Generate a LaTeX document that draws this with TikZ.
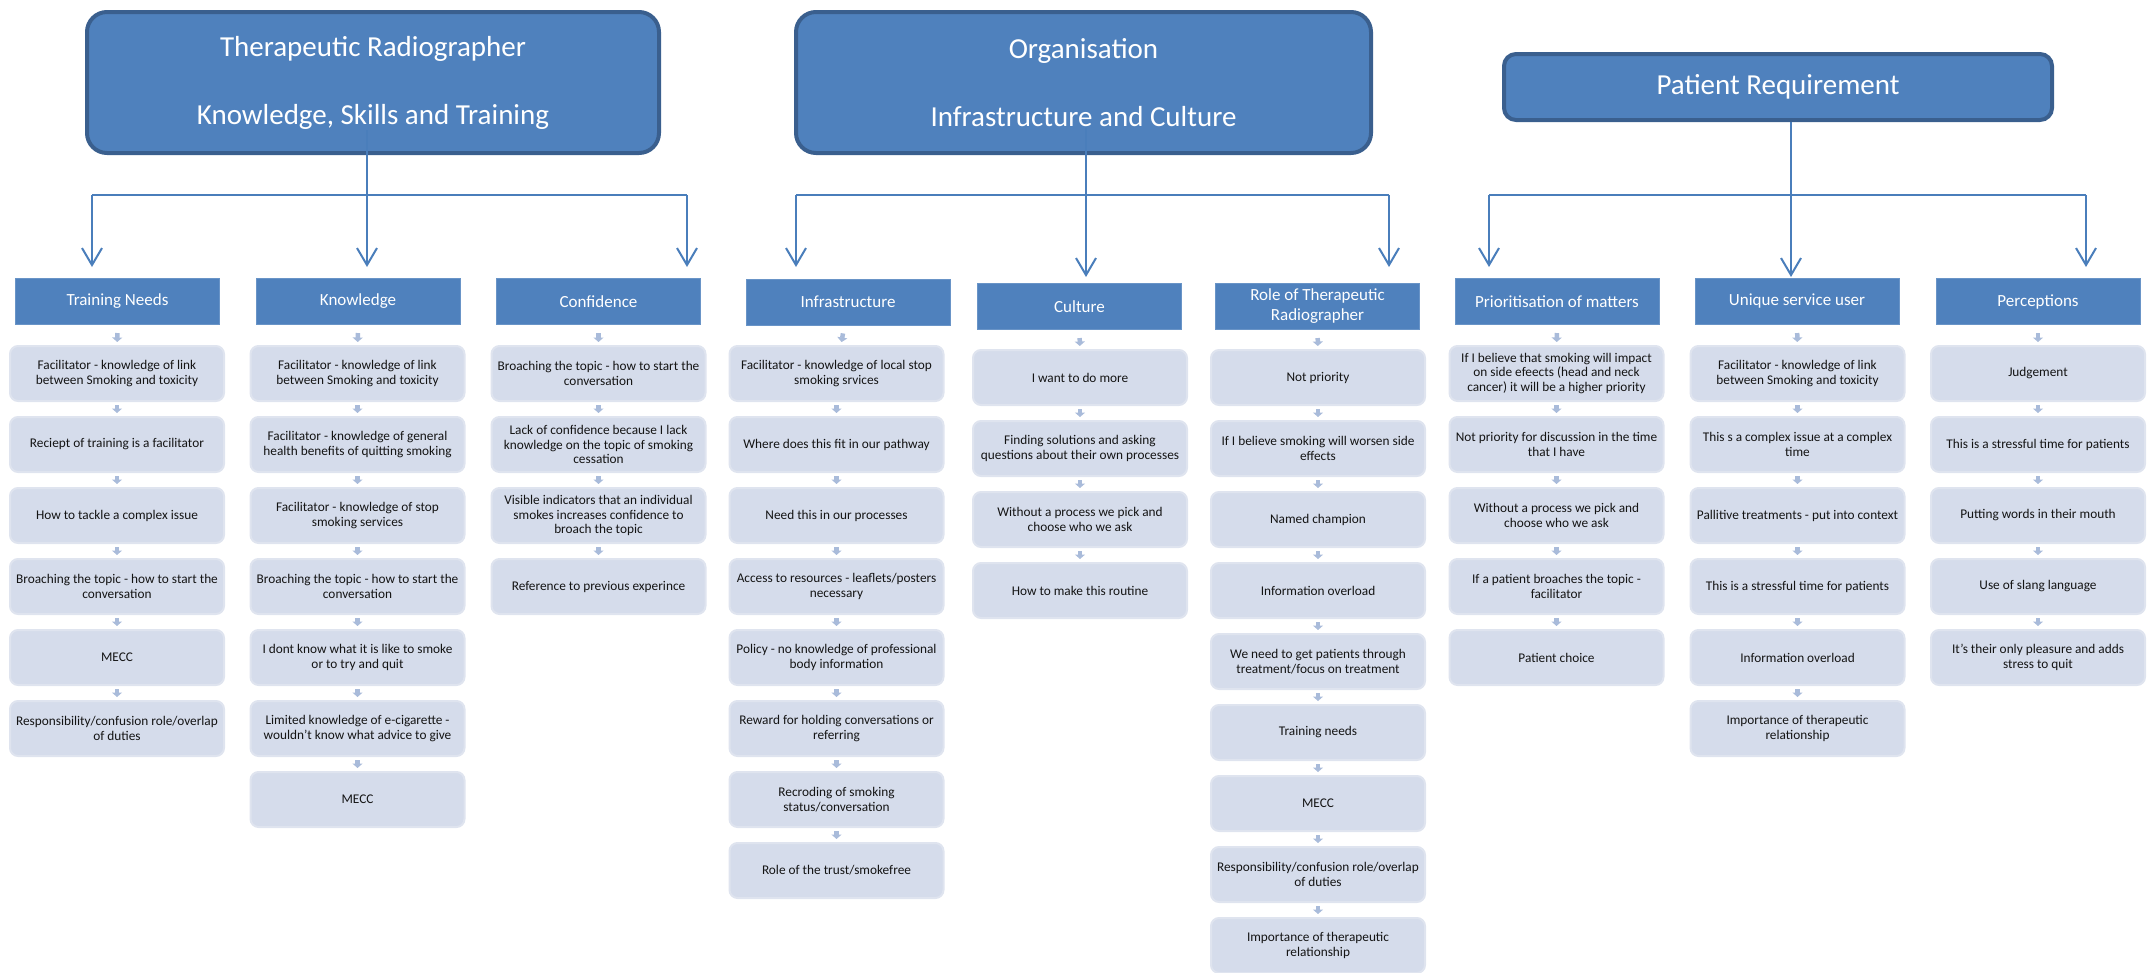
\documentclass[tikz,border=0pt]{standalone}
\usepackage{fontspec}
\setmainfont{Carlito}
\usetikzlibrary{arrows.meta}

\definecolor{boxblue}{HTML}{4F81BD}
\definecolor{boxedge}{HTML}{3A5F8E}
\definecolor{linkblue}{HTML}{4A7EBB}
\definecolor{itemfill}{HTML}{D5DCEB}
\definecolor{itemedge}{HTML}{DFE4EF}
\definecolor{stepblue}{HTML}{A9BBDA}
\definecolor{itemtext}{HTML}{141414}

\begin{document}
\begin{tikzpicture}[x=1pt,y=-1pt]

        \useasboundingbox (0,0) rectangle (2147,972);

        \begin{scope}[every node/.style={rectangle, rounded corners=20pt, draw=boxedge, line width=4pt, fill=boxblue, text=white, align=center, font=\fontsize{29}{34}\selectfont}]
          \node[minimum width=572pt, minimum height=141pt] (A) at (373,82.5)  {Therapeutic Radiographer\\[34pt]Knowledge, Skills and Training};
          \node[minimum width=575pt, minimum height=141pt] (B) at (1083.5,82.5) {Organisation\\[34pt]Infrastructure and Culture};
          \node[minimum width=548pt, minimum height=66pt, rounded corners=12pt] (C) at (1778,87) {Patient Requirement};
        \end{scope}

        \begin{scope}[every node/.style={rectangle, fill=boxblue, draw=boxblue!85!white, line width=1pt, text=white, align=center, minimum width=204pt, minimum height=46pt, inner sep=0pt, font=\fontsize{17}{20}\selectfont}]
          \node (1) at (117.5,301.5) {Training Needs};
          \node (2) at (358,301.5)   {Knowledge};
          \node (3) at (598.5,301.5) {Confidence};
          \node (4) at (848,302)     {Infrastructure};
          \node (5) at (1079.5,306.5) {Culture};
          \node (6) at (1317.5,306.5) {Role of Therapeutic\\Radiographer};
          \node (7) at (1557,301.5)  {Prioritisation of matters};
          \node (8) at (1797,301.5)  {Unique service user};
          \node (9) at (2038,301.5)  {Perceptions};
        \end{scope}

        \begin{scope}[every node/.style={rectangle, rounded corners=8pt, fill=itemfill, draw=itemedge, line width=2pt, text=itemtext, align=center, minimum width=214pt, minimum height=55pt, inner sep=0pt, font=\fontsize{13.3}{14.6}\selectfont}]
          \node (1-1) at (117,373.5) {Facilitator - knowledge of link\\between Smoking and toxicity};
          \node (1-2) at (117,444.5) {Reciept of training is a facilitator};
          \node (1-3) at (117,515.5) {How to tackle a complex issue};
          \node (1-4) at (117,586.5) {Broaching the topic - how to start the\\conversation};
          \node (1-5) at (117,657.5) {MECC};
          \node (1-6) at (117,728.5) {Responsibility/confusion role/overlap\\of duties};

          \node (2-1) at (357.5,373.5) {Facilitator - knowledge of link\\between Smoking and toxicity};
          \node (2-2) at (357.5,444.5) {Facilitator - knowledge of general\\health benefits of quitting smoking};
          \node (2-3) at (357.5,515.5) {Facilitator - knowledge of stop\\smoking services};
          \node (2-4) at (357.5,586.5) {Broaching the topic - how to start the\\conversation};
          \node (2-5) at (357.5,657.5) {I dont know what it is like to smoke\\or to try and quit};
          \node (2-6) at (357.5,728.5) {Limited knowledge of e-cigarette -\\wouldn't know what advice to give};
          \node (2-7) at (357.5,799.5) {MECC};

          \node (3-1) at (598.5,373.5) {Broaching the topic - how to start the\\conversation};
          \node (3-2) at (598.5,444.5) {Lack of confidence because I lack\\knowledge on the topic of smoking\\cessation};
          \node (3-3) at (598.5,515.5) {Visible indicators that an individual\\smokes increases confidence to\\broach the topic};
          \node (3-4) at (598.5,586.5) {Reference to previous experince};

          \node (4-1) at (836.5,373.5) {Facilitator - knowledge of local stop\\smoking srvices};
          \node (4-2) at (836.5,444.5) {Where does this fit in our pathway};
          \node (4-3) at (836.5,515.5) {Need this in our processes};
          \node (4-4) at (836.5,586.5) {Access to resources - leaflets/posters\\necessary};
          \node (4-5) at (836.5,657.5) {Policy - no knowledge of professional\\body information};
          \node (4-6) at (836.5,728.5) {Reward for holding conversations or\\referring};
          \node (4-7) at (836.5,799.5) {Recroding of smoking\\status/conversation};
          \node (4-8) at (836.5,870.5) {Role of the trust/smokefree};

          \node (5-1) at (1080,377.5) {I want to do more};
          \node (5-2) at (1080,448.5) {Finding solutions and asking\\questions about their own processes};
          \node (5-3) at (1080,519.5) {Without a process we pick and\\choose who we ask};
          \node (5-4) at (1080,590.5) {How to make this routine};

          \node (6-1) at (1318,377.5) {Not priority};
          \node (6-2) at (1318,448.5) {If I believe smoking will worsen side\\effects};
          \node (6-3) at (1318,519.5) {Named champion};
          \node (6-4) at (1318,590.5) {Information overload};
          \node (6-5) at (1318,661.5) {We need to get patients through\\treatment/focus on treatment};
          \node (6-6) at (1318,732.5) {Training needs};
          \node (6-7) at (1318,803.5) {MECC};
          \node (6-8) at (1318,874.5) {Responsibility/confusion role/overlap\\of duties};
          \node (6-9) at (1318,945.5) {Importance of therapeutic\\relationship};

          \node (7-1) at (1556.5,373.5) {If I believe that smoking will impact\\on side efeects (head and neck\\cancer) it will be a higher priority};
          \node (7-2) at (1556.5,444.5) {Not priority for discussion in the time\\that I have};
          \node (7-3) at (1556.5,515.5) {Without a process we pick and\\choose who we ask};
          \node (7-4) at (1556.5,586.5) {If a patient broaches the topic -\\facilitator};
          \node (7-5) at (1556.5,657.5) {Patient choice};

          \node (8-1) at (1797.5,373.5) {Facilitator - knowledge of link\\between Smoking and toxicity};
          \node (8-2) at (1797.5,444.5) {This s a complex issue at a complex\\time};
          \node (8-3) at (1797.5,515.5) {Pallitive treatments - put into context};
          \node (8-4) at (1797.5,586.5) {This is a stressful time for patients};
          \node (8-5) at (1797.5,657.5) {Information overload};
          \node (8-6) at (1797.5,728.5) {Importance of therapeutic\\relationship};

          \node (9-1) at (2038,373.5) {Judgement};
          \node (9-2) at (2038,444.5) {This is a stressful time for patients};
          \node (9-3) at (2038,515.5) {Putting words in their mouth};
          \node (9-4) at (2038,586.5) {Use of slang language};
          \node (9-5) at (2038,657.5) {It's their only pleasure and adds\\stress to quit};
        \end{scope}

        \coordinate (A-in) at (367,130);
        \coordinate (A-l)  at (92,195);
        \coordinate (A-r)  at (687,195);
        \coordinate (A-lt) at (92,267);
        \coordinate (A-mt) at (367,267);
        \coordinate (A-rt) at (687,267);

        \coordinate (B-in) at (1086,127);
        \coordinate (B-l)  at (796,195);
        \coordinate (B-r)  at (1389,195);
        \coordinate (B-lt) at (796,267);
        \coordinate (B-mt) at (1086,277);
        \coordinate (B-rt) at (1389,267);

        \coordinate (C-in) at (1791,122);
        \coordinate (C-l)  at (1489,195);
        \coordinate (C-r)  at (2086,195);
        \coordinate (C-lt) at (1489,267);
        \coordinate (C-mt) at (1791,277);
        \coordinate (C-rt) at (2086,267);

        \begin{scope}[every edge/.style={draw=linkblue, line width=2pt}, tip/.style={-{Straight Barb[length=17pt,width=20pt]}}]
          \path (A-l)  edge (A-r);
          \path (A-in) edge[tip] (A-mt);
          \path (A-l)  edge[tip] (A-lt);
          \path (A-r)  edge[tip] (A-rt);
          \path (B-l)  edge (B-r);
          \path (B-in) edge[tip] (B-mt);
          \path (B-l)  edge[tip] (B-lt);
          \path (B-r)  edge[tip] (B-rt);
          \path (C-l)  edge (C-r);
          \path (C-in) edge[tip] (C-mt);
          \path (C-l)  edge[tip] (C-lt);
          \path (C-r)  edge[tip] (C-rt);
        \end{scope}

        \begin{scope}[every edge/.style={draw=stepblue, line width=4.5pt, -{Triangle[length=4.5pt,width=10pt]}, shorten <=3pt, shorten >=3pt}, first/.style={shorten <=8pt}]
          \path (1) edge[first] (1-1);
          \path (1-1) edge (1-2);
          \path (1-2) edge (1-3);
          \path (1-3) edge (1-4);
          \path (1-4) edge (1-5);
          \path (1-5) edge (1-6);

          \path (2) edge[first] (2-1);
          \path (2-1) edge (2-2);
          \path (2-2) edge (2-3);
          \path (2-3) edge (2-4);
          \path (2-4) edge (2-5);
          \path (2-5) edge (2-6);
          \path (2-6) edge (2-7);

          \path (3) edge[first] (3-1);
          \path (3-1) edge (3-2);
          \path (3-2) edge (3-3);
          \path (3-3) edge (3-4);

          \path (4) edge[first] (4-1);
          \path (4-1) edge (4-2);
          \path (4-2) edge (4-3);
          \path (4-3) edge (4-4);
          \path (4-4) edge (4-5);
          \path (4-5) edge (4-6);
          \path (4-6) edge (4-7);
          \path (4-7) edge (4-8);

          \path (5) edge[first] (5-1);
          \path (5-1) edge (5-2);
          \path (5-2) edge (5-3);
          \path (5-3) edge (5-4);

          \path (6) edge[first] (6-1);
          \path (6-1) edge (6-2);
          \path (6-2) edge (6-3);
          \path (6-3) edge (6-4);
          \path (6-4) edge (6-5);
          \path (6-5) edge (6-6);
          \path (6-6) edge (6-7);
          \path (6-7) edge (6-8);
          \path (6-8) edge (6-9);

          \path (7) edge[first] (7-1);
          \path (7-1) edge (7-2);
          \path (7-2) edge (7-3);
          \path (7-3) edge (7-4);
          \path (7-4) edge (7-5);

          \path (8) edge[first] (8-1);
          \path (8-1) edge (8-2);
          \path (8-2) edge (8-3);
          \path (8-3) edge (8-4);
          \path (8-4) edge (8-5);
          \path (8-5) edge (8-6);

          \path (9) edge[first] (9-1);
          \path (9-1) edge (9-2);
          \path (9-2) edge (9-3);
          \path (9-3) edge (9-4);
          \path (9-4) edge (9-5);
        \end{scope}

      \end{tikzpicture}
\end{document}
